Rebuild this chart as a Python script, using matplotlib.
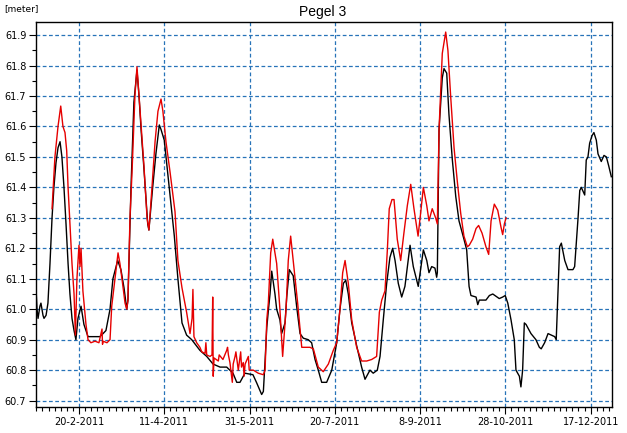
import matplotlib

matplotlib.use("Agg")
import matplotlib.pyplot as plt
import matplotlib.dates as mdates
from matplotlib.ticker import MultipleLocator, FixedLocator, FuncFormatter
import numpy as np
import pandas as pd

# day of year 2011 (1 = 1 Jan) and water level [m]
black_day = [25.8, 26.4, 27.0, 28.1, 28.7, 29.9, 30.5, 31.7, 32.8, 34.0, 35.2, 36.3, 37.5, 38.7,
             39.9, 41.0, 42.2, 43.4, 44.6, 45.7, 46.9, 48.1, 49.2, 50.4, 52.2, 53.9, 56.3, 59.8,
             63.3, 65.1, 66.8, 69.2, 70.9, 73.7, 75.6, 77.4, 79.0, 79.7, 81.5, 83.2, 85.0, 86.2,
             87.4, 89.1, 91.3, 92.0, 94.2, 96.1, 98.1, 99.1, 101.0, 103.9, 106.9, 109.0, 111.4,
             114.1, 117.1, 121.9, 125.9, 129.6, 133.7, 137.6, 141.3, 143.5, 145.4, 148.3, 153.0,
             155.2, 158.1, 159.1, 160.1, 161.1, 162.1, 163.0, 164.0, 165.9, 166.9, 168.8, 169.8,
             171.8, 172.8, 174.3, 176.6, 178.6, 180.6, 182.5, 185.4, 187.4, 189.4, 191.3, 193.3,
             196.2, 199.2, 202.1, 204.0, 206.0, 207.4, 208.9, 210.9, 213.8, 216.7, 218.7, 221.6,
             223.5, 225.9, 227.5, 229.4, 231.4, 233.3, 234.9, 236.3, 238.2, 240.2, 242.1, 245.1,
             247.0, 249.9, 252.9, 254.9, 256.2, 257.8, 259.7, 260.7, 261.1, 262.1, 264.0, 265.0,
             266.6, 267.9, 269.9, 271.9, 273.8, 276.7, 278.3, 279.7, 280.8, 283.8, 284.8, 285.7,
             289.6, 291.6, 293.6, 297.4, 299.4, 300.9, 302.4, 304.3, 306.2, 307.2, 309.2, 310.1,
             311.1, 312.1, 313.1, 316.0, 318.9, 320.9, 322.0, 324.0, 326.0, 327.9, 329.9, 330.8,
             331.8, 332.8, 333.8, 335.8, 337.7, 340.6, 341.6, 343.6, 344.6, 345.5, 347.5, 348.4,
             349.4, 350.4, 351.8, 352.9, 354.3, 355.3, 357.2, 358.8, 360.2, 361.6, 363.1]
black_level = [61.07, 61.00, 60.97, 61.01, 61.02, 60.98, 60.97, 60.98, 61.02, 61.15, 61.30, 61.40,
               61.48, 61.53, 61.55, 61.50, 61.40, 61.28, 61.15, 61.05, 60.97, 60.93, 60.90, 60.97,
               61.01, 60.95, 60.91, 60.91, 60.91, 60.92, 60.93, 61.00, 61.10, 61.16, 61.13, 61.07,
               61.00, 61.03, 61.40, 61.68, 61.785, 61.70, 61.59, 61.46, 61.28, 61.26, 61.40, 61.51,
               61.605, 61.59, 61.555, 61.40, 61.24, 61.10, 60.955, 60.915, 60.90, 60.865, 60.845,
               60.82, 60.81, 60.81, 60.79, 60.76, 60.76, 60.79, 60.785, 60.758, 60.72, 60.73,
               60.83, 60.94, 61.00, 61.05, 61.125, 61.05, 61.00, 60.965, 60.92, 60.955, 61.04,
               61.13, 61.11, 61.01, 60.92, 60.905, 60.90, 60.89, 60.835, 60.80, 60.76, 60.76,
               60.80, 60.89, 61.00, 61.085, 61.095, 61.05, 60.955, 60.88, 60.81, 60.77, 60.80,
               60.79, 60.80, 60.845, 60.965, 61.085, 61.17, 61.20, 61.16, 61.085, 61.04, 61.075,
               61.21, 61.14, 61.075, 61.195, 61.16, 61.12, 61.14, 61.135, 61.105, 61.12, 61.59,
               61.76, 61.79, 61.775, 61.64, 61.49, 61.37, 61.29, 61.23, 61.195, 61.075, 61.045,
               61.04, 61.015, 61.03, 61.03, 61.045, 61.05, 61.035, 61.04, 61.045, 61.02, 60.965,
               60.90, 60.80, 60.78, 60.745, 60.80, 60.955, 60.95, 60.92, 60.90, 60.875, 60.87,
               60.89, 60.92, 60.915, 60.91, 60.90, 61.05, 61.205, 61.217, 61.16, 61.13, 61.13,
               61.14, 61.30, 61.39, 61.40, 61.375, 61.49, 61.50, 61.545, 61.57, 61.58, 61.555,
               61.51, 61.485, 61.505, 61.50, 61.47, 61.435]

red_day = [35.2, 36.9, 38.7, 40.3, 41.6, 42.8, 43.8, 44.6, 45.7, 46.9, 48.1, 48.9, 49.8, 51.0,
           51.6, 52.2, 53.3, 55.1, 56.3, 58.0, 60.4, 62.7, 64.5, 64.8, 65.1, 67.4, 69.2, 70.2,
           72.1, 73.9, 75.0, 76.2, 78.0, 79.0, 79.7, 80.9, 82.1, 83.8, 85.0, 86.2, 87.4, 89.1,
           90.9, 92.0, 93.8, 95.6, 97.3, 99.1, 100.2, 102.0, 104.4, 107.3, 109.0, 111.4, 114.1,
           116.1, 117.3, 117.8, 118.4, 120.0, 121.9, 123.0, 124.9, 125.4, 125.9, 127.8, 129.0,
           129.4, 129.7, 130.2, 132.7, 133.2, 135.4, 137.6, 138.1, 138.6, 139.5, 140.9, 141.4,
           142.5, 143.0, 144.4, 145.8, 146.3, 147.3, 147.8, 148.4, 150.3, 150.8, 153.2, 156.1,
           159.1, 160.1, 161.1, 162.0, 163.4, 164.6, 166.9, 168.8, 170.4, 172.4, 173.7, 175.1,
           176.6, 179.2, 181.6, 184.1, 186.4, 188.4, 191.3, 194.2, 197.2, 200.1, 202.1, 204.0,
           205.6, 207.0, 208.9, 210.9, 213.8, 216.7, 219.7, 222.6, 225.5, 227.1, 228.5, 230.4,
           231.8, 232.9, 234.5, 235.7, 237.6, 239.6, 241.5, 243.5, 245.5, 247.4, 249.8, 251.3,
           252.9, 254.9, 256.2, 258.1, 260.1, 261.1, 262.1, 264.0, 266.0, 267.3, 268.9, 270.9,
           272.8, 274.8, 276.7, 278.7, 279.8, 281.8, 283.8, 285.3, 287.3, 289.6, 291.2, 292.6,
           294.5, 296.5, 298.4, 299.4, 300.4, 301.4]
red_level = [61.33, 61.50, 61.60, 61.667, 61.60, 61.58, 61.52, 61.40, 61.28, 61.15, 61.05, 60.915,
             61.10, 61.21, 61.14, 61.20, 61.06, 60.95, 60.90, 60.89, 60.895, 60.89, 60.935, 60.885,
             60.895, 60.89, 60.90, 61.01, 61.10, 61.185, 61.15, 61.10, 61.02, 61.00, 61.03, 61.30,
             61.45, 61.70, 61.796, 61.70, 61.60, 61.47, 61.30, 61.26, 61.40, 61.55, 61.65, 61.69,
             61.65, 61.55, 61.45, 61.32, 61.16, 61.07, 60.99, 60.92, 60.97, 61.065, 60.91, 60.89,
             60.875, 60.86, 60.855, 60.89, 60.85, 60.845, 60.85, 61.04, 60.78, 60.84, 60.83,
             60.85, 60.835, 60.865, 60.875, 60.85, 60.825, 60.76, 60.82, 60.845, 60.86, 60.80,
             60.86, 60.81, 60.825, 60.78, 60.82, 60.845, 60.80, 60.80, 60.79, 60.785, 60.80,
             60.965, 61.02, 61.185, 61.23, 61.15, 61.00, 60.845, 61.00, 61.16, 61.24, 61.16,
             61.02, 60.875, 60.875, 60.875, 60.87, 60.81, 60.795, 60.82, 60.865, 60.89, 61.00,
             61.12, 61.16, 61.085, 60.965, 60.875, 60.83, 60.83, 60.835, 60.845, 60.99, 61.03,
             61.06, 61.195, 61.33, 61.36, 61.36, 61.23, 61.16, 61.25, 61.34, 61.41, 61.33, 61.24,
             61.315, 61.40, 61.34, 61.29, 61.33, 61.30, 61.28, 61.59, 61.84, 61.91, 61.85, 61.70,
             61.53, 61.42, 61.315, 61.24, 61.205, 61.21, 61.23, 61.265, 61.275, 61.25, 61.205,
             61.18, 61.29, 61.345, 61.325, 61.27, 61.245, 61.28, 61.30]

tick_days = [51, 101, 151, 201, 251, 301, 351]

start = pd.Timestamp("2011-01-01")


def to_dates(days):
    return start + pd.to_timedelta(np.array(days) - 1, unit="D")


grid_color = "#2773b8"

fig = plt.figure(figsize=(6.27, 4.33), dpi=100)
ax = fig.add_axes([36 / 627, 26 / 433, 576 / 627, 385 / 433])

ax.plot(to_dates(black_day), black_level, color="black", lw=1.0)
ax.plot(to_dates(red_day), red_level, color="#e60000", lw=1.0)

ax.set_xlim(mdates.date2num(to_dates([25.8])[0]), mdates.date2num(to_dates([363.5])[0]))
ax.set_ylim(60.679, 61.943)

ax.xaxis.set_major_locator(FixedLocator(mdates.date2num(to_dates(tick_days))))
ax.xaxis.set_major_formatter(FuncFormatter(
    lambda v, pos: (lambda d: f"{d.day}-{d.month}-{d.year}")(mdates.num2date(v))))
minor_days = np.arange(tick_days[0] - 50, 370, 50 / 14)
ax.xaxis.set_minor_locator(FixedLocator(mdates.date2num(to_dates(minor_days))))
ax.yaxis.set_major_locator(MultipleLocator(0.1))
ax.yaxis.set_minor_locator(MultipleLocator(0.05))
ax.yaxis.set_major_formatter(FuncFormatter(lambda v, pos: f"{v:.1f}"))

ax.grid(True, which="major", color=grid_color, linestyle=(0, (3, 2)), lw=0.9)
ax.tick_params(which="major", direction="out", length=5, width=0.8, labelsize=7, pad=2)
ax.tick_params(which="minor", direction="out", length=3, width=0.8)
for s in ax.spines.values():
    s.set_linewidth(1.0)

fig.text(323 / 627, 1 - 12 / 433, "Pegel 3", ha="center", va="center", fontsize=10,
         family="Liberation Sans")
fig.text(4 / 627, 1 - 9 / 433, "[meter]", ha="left", va="center", fontsize=6.5)

fig.savefig("out.png", dpi=100)
